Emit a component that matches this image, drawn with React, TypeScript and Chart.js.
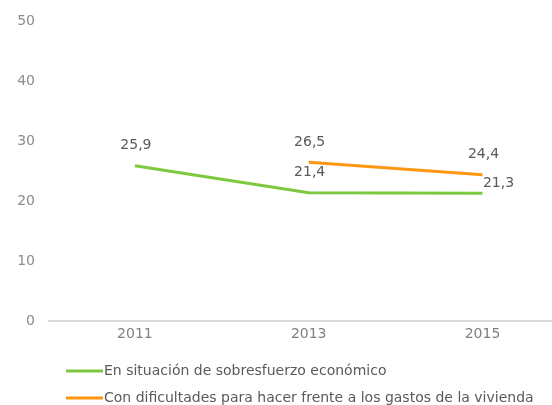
import React, { useEffect, useRef } from "react";
import { Chart, registerables } from "chart.js";

Chart.register(...registerables);

const years = ["2011", "2013", "2015"];
const seriesNames = [
  "En situación de sobresfuerzo económico",
  "Con dificultades para hacer frente a los gastos de la vivienda",
];
const sobresfuerzo = [25.9, 21.4, 21.3];
const dificultades = [null, 26.5, 24.4];
const yTicks = [0, 10, 20, 30, 40, 50];
const colors = ["#7cc93f", "#ff9612"];
const labelPlacement = [
  ["above", "above", "right"],
  [null, "above", "above"],
];

const FONT = "'DejaVu Sans', Verdana, sans-serif";

const dataLabelPlugin = {
  id: "dataLabels",
  afterDatasetsDraw(chart: any) {
    const ctx = chart.ctx;
    ctx.save();
    ctx.font = `14px ${FONT}`;
    ctx.fillStyle = "#595959";
    ctx.textAlign = "center";
    ctx.textBaseline = "middle";
    chart.data.datasets.forEach((ds: any, di: number) => {
      const meta = chart.getDatasetMeta(di);
      meta.data.forEach((pt: any, i: number) => {
        const v = ds.data[i]?.y;
        if (v == null) return;
        const place = labelPlacement[di][i];
        let x = pt.x;
        let y = pt.y;
        if (place === "above") {
          x += 1;
          y -= 20;
        } else if (place === "right") {
          x += 16;
          y -= 10;
        }
        ctx.fillText(v.toFixed(1).replace(".", ","), x, y);
      });
    });
    ctx.restore();
  },
};

const legendPlugin = {
  id: "customLegend",
  afterDraw(chart: any) {
    const ctx = chart.ctx;
    ctx.save();
    ctx.font = `14px ${FONT}`;
    ctx.textBaseline = "middle";
    ctx.textAlign = "left";
    chart.data.datasets.forEach((ds: any, i: number) => {
      const y = 371 + i * 27;
      ctx.strokeStyle = ds.borderColor;
      ctx.lineWidth = 3;
      ctx.beginPath();
      ctx.moveTo(66, y);
      ctx.lineTo(103, y);
      ctx.stroke();
      ctx.fillStyle = "#595959";
      ctx.fillText(ds.label, 104, y);
    });
    ctx.restore();
  },
};

export default function App() {
  const ref = useRef<HTMLCanvasElement>(null);
  useEffect(() => {
    if (!ref.current) return;
    const toPts = (arr: (number | null)[]) =>
      years.map((y, i) => ({ x: Number(y), y: arr[i] }));
    const chart = new Chart(ref.current, {
      type: "line",
      data: {
        datasets: [
          {
            label: seriesNames[0],
            data: toPts(sobresfuerzo) as any,
            borderColor: colors[0],
            backgroundColor: colors[0],
            borderWidth: 3,
            pointRadius: 0,
            tension: 0,
          },
          {
            label: seriesNames[1],
            data: toPts(dificultades) as any,
            borderColor: colors[1],
            backgroundColor: colors[1],
            borderWidth: 3,
            pointRadius: 0,
            tension: 0,
          },
        ],
      },
      options: {
        animation: false,
        responsive: false,
        devicePixelRatio: 1,
        layout: { padding: { top: 20, bottom: 54, left: 0, right: 0 } },
        plugins: {
          legend: { display: false },
          tooltip: { enabled: false },
          title: { display: false },
        },
        scales: {
          x: {
            type: "linear",
            min: 2010,
            max: 2015.8,
            afterBuildTicks: (axis: any) => {
              axis.ticks = years.map((y) => ({ value: Number(y) }));
            },
            afterFit: (axis: any) => {
              axis.height = 30;
            },
            grid: { display: false, drawTicks: false },
            border: { display: false },
            ticks: {
              padding: 5,
              color: "#7f7f7f",
              font: { family: FONT, size: 14 },
              callback: (v: any) => String(v),
              autoSkip: false,
              maxRotation: 0,
            },
          },
          y: {
            min: 0,
            max: 50,
            afterBuildTicks: (axis: any) => {
              axis.ticks = yTicks.map((v) => ({ value: v }));
            },
            afterFit: (axis: any) => {
              axis.width = 48;
            },
            grid: {
              drawTicks: false,
              color: (c: any) => (c.tick && c.tick.value === 0 ? "#d9d9d9" : "transparent"),
              lineWidth: 2,
            },
            border: { display: false },
            ticks: {
              padding: 13,
              color: "#8c8c8c",
              font: { family: FONT, size: 14 },
            },
          },
        },
      },
      plugins: [dataLabelPlugin, legendPlugin],
    });
    return () => chart.destroy();
  }, []);

  return (
    <div
      style={{
        position: "fixed",
        left: 0,
        top: 0,
        width: 552,
        height: 405,
        overflow: "hidden",
        background: "#ffffff",
      }}
    >
      <canvas ref={ref} width={552} height={405} style={{ display: "block" }} />
    </div>
  );
}
